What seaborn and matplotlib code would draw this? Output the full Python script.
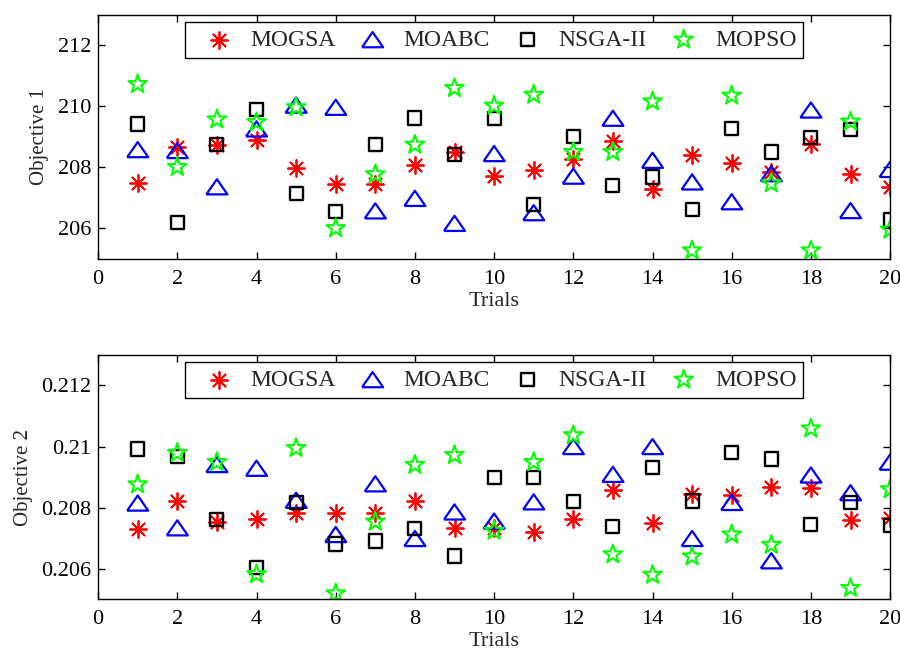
import matplotlib
matplotlib.use("Agg")
import pandas as pd
import matplotlib.pyplot as plt
import seaborn as sns

# values
trials = list(range(1, 21))
algorithms = ["MOGSA", "MOABC", "NSGA-II", "MOPSO"]

obj1_mogsa = [207.49, 208.68, 208.74, 208.90, 207.98, 207.45, 207.45, 208.07, 208.50, 207.72,
              207.90, 208.28, 208.85, 207.30, 208.39, 208.14, 207.83, 208.77, 207.79, 207.36]
obj1_moabc = [208.58, 208.55, 207.36, 209.26, 210.04, 209.97, 206.57, 206.98, 206.16, 208.45,
              206.51, 207.71, 209.61, 208.23, 207.52, 206.87, 207.79, 209.88, 206.58, 207.93]
obj1_nsga = [209.42, 206.20, 208.75, 209.89, 207.14, 206.54, 208.74, 209.62, 208.41, 209.59,
             206.78, 209.01, 207.41, 207.68, 206.62, 209.28, 208.50, 208.99, 209.24, 206.27]
obj1_mopso = [210.73, 208.01, 209.57, 209.48, 209.97, 206.00, 207.77, 208.74, 210.60, 210.02,
              210.38, 208.50, 208.50, 210.16, 205.27, 210.35, 207.47, 205.27, 209.50, 205.95]

obj2_mogsa = [0.20730, 0.20821, 0.20754, 0.20764, 0.20783, 0.20784, 0.20781, 0.20822, 0.20734, 0.20732,
              0.20721, 0.20764, 0.20857, 0.20750, 0.20846, 0.20840, 0.20867, 0.20864, 0.20759, 0.20767]
obj2_moabc = [0.20815, 0.20734, 0.20941, 0.20929, 0.20824, 0.20712, 0.20878, 0.20699, 0.20786, 0.20756,
              0.20819, 0.21000, 0.20909, 0.21000, 0.20699, 0.20817, 0.20626, 0.20907, 0.20849, 0.20949]
obj2_nsga = [0.20992, 0.20967, 0.20762, 0.20604, 0.20818, 0.20681, 0.20691, 0.20732, 0.20642, 0.20900,
             0.20900, 0.20819, 0.20737, 0.20932, 0.20822, 0.20981, 0.20959, 0.20746, 0.20816, 0.20741]
obj2_mopso = [0.20876, 0.20979, 0.20949, 0.20582, 0.20995, 0.20519, 0.20754, 0.20940, 0.20972, 0.20724,
              0.20949, 0.21037, 0.20647, 0.20580, 0.20640, 0.20712, 0.20678, 0.21059, 0.20537, 0.20860]

x_ticks = list(range(0, 21, 2))
obj1_ticks = [206, 208, 210, 212]
obj1_ticklabels = ["206", "208", "210", "212"]
obj2_ticks = [0.206, 0.208, 0.210, 0.212]
obj2_ticklabels = ["0.206", "0.208", "0.21", "0.212"]

sns.set_style("white")
plt.rcParams["font.family"] = ["Liberation Serif", "DejaVu Serif"]
plt.rcParams["font.size"] = 15
plt.rcParams["xtick.direction"] = "in"
plt.rcParams["ytick.direction"] = "in"

# marker look per algorithm (MATLAB-ish)
tri = [(-1, -0.72), (1, -0.72), (0, 0.72), (-1, -0.72)]
styles = {
    "MOGSA": dict(marker=(8, 2, 0), s=150, color="#ff0000", linewidth=1.3),
    "MOABC": dict(marker=tri, s=230, color="#0000ff", facecolor="none", edgecolor="#0000ff", linewidth=1.6),
    "NSGA-II": dict(marker="s", s=90, color="black", facecolor="none", edgecolor="black", linewidth=1.7),
    "MOPSO": dict(marker="*", s=200, color="#00ff00", facecolor="none", edgecolor="#00ff00", linewidth=1.5),
}


def make_frame(series):
    rows = []
    for name, vals in zip(algorithms, series):
        for t, v in zip(trials, vals):
            rows.append({"Trial": t, "Value": v, "Algorithm": name})
    return pd.DataFrame(rows)


def draw_panel(ax, df, ylim, yticks, yticklabels, ylabel):
    for name in algorithms:
        sub = df[df["Algorithm"] == name]
        sns.scatterplot(data=sub, x="Trial", y="Value", ax=ax, label=name, **styles[name])
    ax.set_xlim(0, 20)
    ax.set_ylim(*ylim)
    ax.set_xticks(x_ticks)
    ax.set_yticks(yticks)
    ax.set_yticklabels(yticklabels)
    ax.set_xlabel("Trials", labelpad=2, fontsize=16)
    ax.set_ylabel(ylabel, labelpad=6, fontsize=15)
    ax.tick_params(which="both", direction="in", bottom=True, left=True, top=True, right=True,
                   length=5, width=1, colors="black", labelsize=16)
    ax.tick_params(axis="x", pad=8)
    ax.tick_params(axis="y", pad=5)
    for sp in ax.spines.values():
        sp.set_color("black")
        sp.set_linewidth(1.0)
    ax.legend(loc="upper center", bbox_to_anchor=(0.5, 0.97), ncol=4, frameon=True,
              fancybox=False, edgecolor="black", framealpha=1, borderaxespad=0,
              fontsize=17, handlelength=2.3, handletextpad=0.17, columnspacing=0.42,
              borderpad=0.3)


fig = plt.figure(figsize=(9, 6.5), dpi=100)
ax1 = fig.add_axes([0.109, 0.602, 0.880, 0.375])
ax2 = fig.add_axes([0.109, 0.078, 0.880, 0.376])

df1 = make_frame([obj1_mogsa, obj1_moabc, obj1_nsga, obj1_mopso])
df2 = make_frame([obj2_mogsa, obj2_moabc, obj2_nsga, obj2_mopso])

draw_panel(ax1, df1, (205, 213), obj1_ticks, obj1_ticklabels, "Objective 1")
draw_panel(ax2, df2, (0.205, 0.213), obj2_ticks, obj2_ticklabels, "Objective 2")

fig.savefig("out.png", dpi=100)
